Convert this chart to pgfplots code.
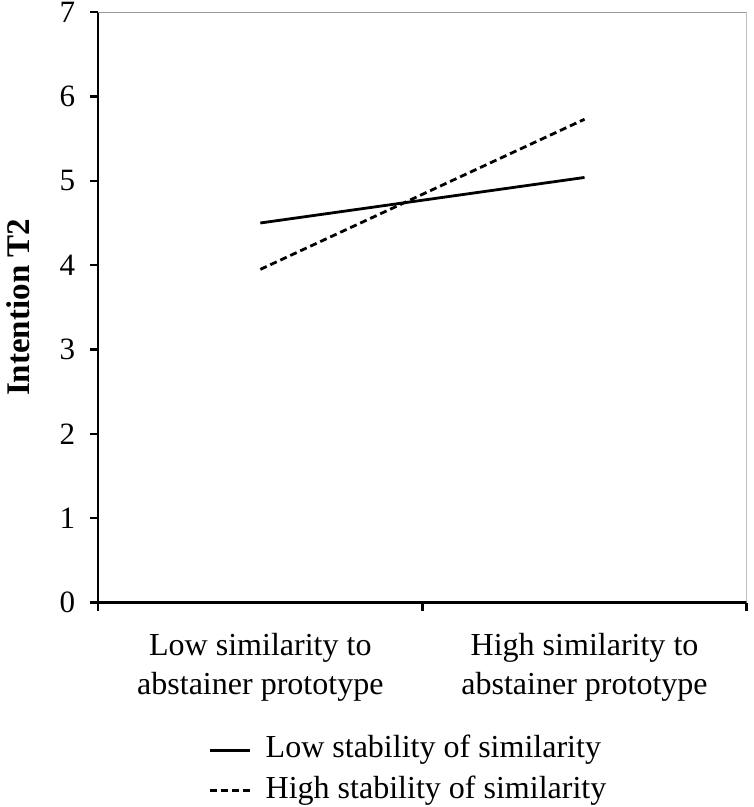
\documentclass[border=0pt]{standalone}
\usepackage{fontspec}
\setmainfont{Liberation Serif}
\usepackage{pgfplots}
\pgfplotsset{compat=1.18}

\begin{document}
\begin{tikzpicture}
\begin{axis}[
    scale only axis,
    width=324pt, height=295pt,
    xmin=-0.5, xmax=1.5,
    ymin=0, ymax=7,
    axis x line*=bottom,
    axis y line*=left,
    axis line style={line width=1.2pt, black},
    tick style={line width=1.2pt, black},
    tick align=outside,
    major tick length=4pt,
    ytick={0,1,...,7},
    xtick={-0.5,0.5,1.5},
    xticklabels={},
    extra x ticks={0,1},
    extra x tick labels={Low similarity to\\abstainer prototype, High similarity to\\abstainer prototype},
    extra x tick style={major tick length=0pt, tick style={draw=none}},
    xticklabel style={align=center, yshift=-12pt, font=\fontsize{16}{19.5}\selectfont},
    yticklabel style={font=\fontsize{15.5}{19}\selectfont, xshift=-4pt, inner ysep=1pt},
    /pgf/number format/assume math mode=true,
    ylabel={\textbf{Intention T2}},
    ylabel style={font=\fontsize{16.5}{19}\selectfont, yshift=8pt},
    legend style={draw=none, at={(0.17,-0.222)}, anchor=north west,
        font=\fontsize{16}{19}\selectfont, row sep=3.5pt, inner sep=0pt,
        nodes={text height=11pt, text depth=3.5pt, inner ysep=1pt}},
    legend cell align=left,
    legend image code/.code={\draw[#1] (0pt,0pt) -- (20pt,0pt); \path (25pt,0pt);},
]
\draw[gray!80, line width=0.8pt] (rel axis cs:0,1) -- (rel axis cs:1,1) -- (rel axis cs:1,0);
\addplot[black, line width=1.4pt] coordinates {(0,4.50) (1,5.04)};
\addlegendentry{Low stability of similarity}
\addplot[black, line width=1.4pt, dash pattern=on 3.5pt off 2pt] coordinates {(0,3.95) (1,5.73)};
\addlegendentry{High stability of similarity}
\end{axis}
\end{tikzpicture}
\end{document}
